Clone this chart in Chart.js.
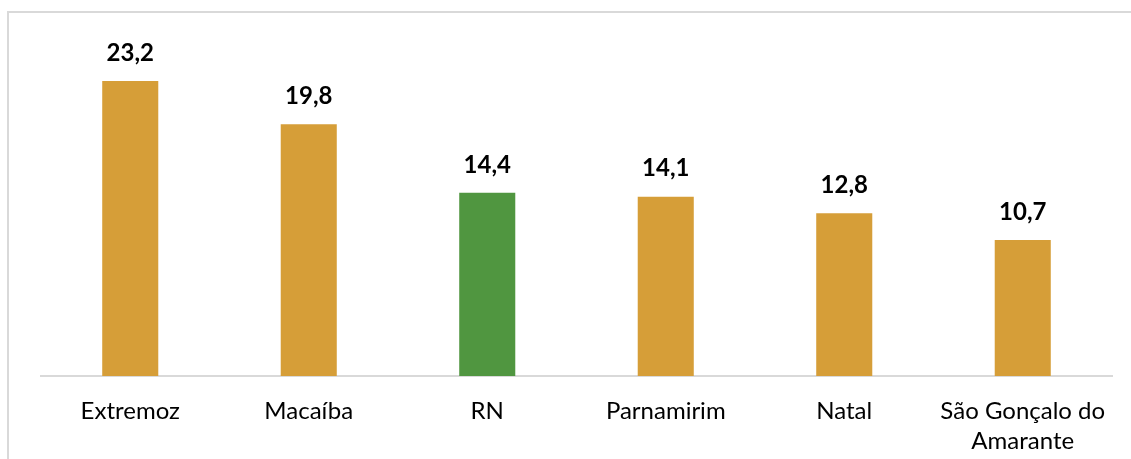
<!DOCTYPE html>
<html>
<head>
<meta charset="utf-8">
<script src="https://cdn.jsdelivr.net/npm/chart.js@4/dist/chart.umd.min.js"></script>
<style>
  html, body { margin: 0; padding: 0; background: #fff; }
  #wrap { position: relative; width: 1131px; height: 459px; overflow: hidden; }
  #frame { position: absolute; left: 7px; top: 11px; width: 1200px; height: 500px;
           border-left: 2px solid #d9d9d9; border-top: 2px solid #d9d9d9; }
  #c { position: absolute; left: 0; top: 0; }
</style>
</head>
<body>
<div id="wrap">
  <div id="frame"></div>
  <canvas id="c" width="1131" height="459"></canvas>
</div>
<script>
var cidades = ['Extremoz', 'Macaíba', 'RN', 'Parnamirim', 'Natal', ['São Gonçalo do', 'Amarante']]
var taxas = [23.2, 19.8, 14.4, 14.1, 12.8, 10.7]
var cores = ['#d69e38', '#d69e38', '#509640', '#d69e38', '#d69e38', '#d69e38']

// rótulos de valor em cima das barras (formato pt-BR com vírgula)
var rotulos = {
  id: 'rotulos',
  afterDatasetsDraw: function (chart) {
    var ctx = chart.ctx
    var meta = chart.getDatasetMeta(0)
    ctx.save()
    ctx.font = 'bold 24px Lato'
    ctx.fillStyle = '#000'
    ctx.textAlign = 'center'
    ctx.textBaseline = 'middle'
    meta.data.forEach(function (bar, i) {
      ctx.fillText(taxas[i].toFixed(1).replace('.', ','), bar.x, bar.y - 28)
    })
    ctx.restore()
  }
}

new Chart(document.getElementById('c'), {
  type: 'bar',
  data: {
    labels: cidades,
    datasets: [{
      data: taxas,
      backgroundColor: cores,
      categoryPercentage: 1,
      barPercentage: 0.314
    }]
  },
  options: {
    responsive: false,
    animation: false,
    layout: { padding: { left: 41, right: 19, top: 58, bottom: 0 } },
    plugins: { legend: { display: false }, tooltip: { enabled: false } },
    scales: {
      x: {
        grid: { drawOnChartArea: false, drawTicks: false },
        border: { display: true, color: '#d9d9d9', width: 2 },
        ticks: { color: '#000', padding: 20, maxRotation: 0, autoSkip: false,
                 font: { family: 'Lato', size: 24, lineHeight: 1.25 } },
        afterFit: function (s) { s.height = 83 }
      },
      y: { display: false, min: 0, max: 25 }
    }
  },
  plugins: [rotulos]
})
</script>
</body>
</html>
